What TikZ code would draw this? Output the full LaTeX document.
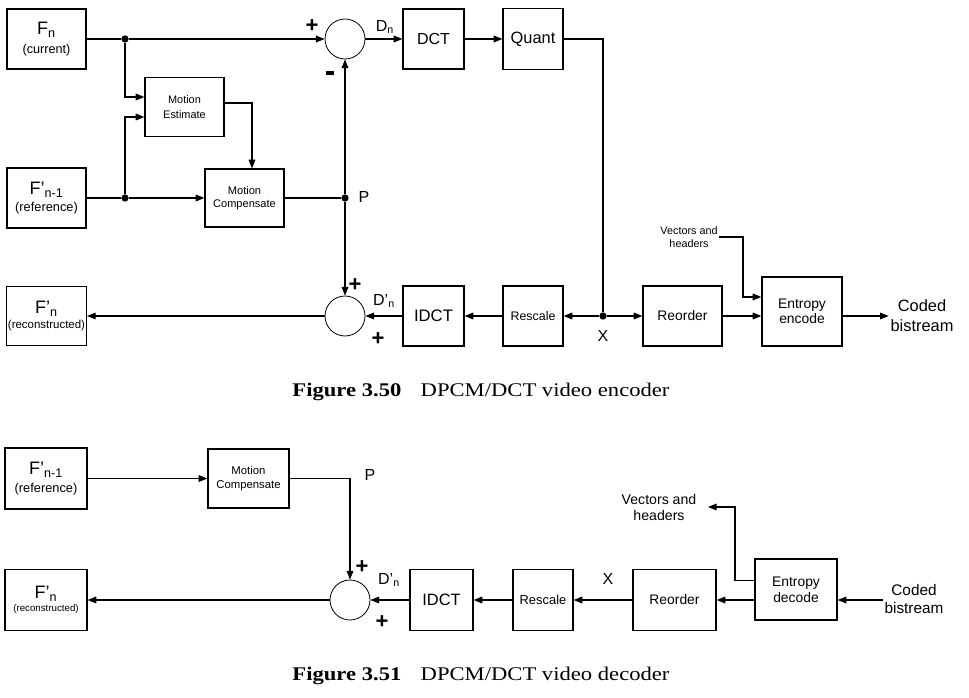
\documentclass[tikz,border=0pt]{standalone}
\usepackage{fontspec}
\setmainfont{Liberation Sans}
\newfontfamily\captionfont[FakeStretch=1.17]{Liberation Serif}
\usetikzlibrary{arrows.meta}

\newcommand\fsz[2]{\fontsize{#1}{#2}\selectfont}

\tikzset{
  block/.style={draw, line width=0.9pt, align=center, inner sep=1pt},
  boxsize/.style 2 args={minimum width=#1*0.75pt, minimum height=#2*0.75pt},
  adder/.style={draw, circle, line width=0.6pt, minimum size=30pt, inner sep=0pt},
  junction/.style={circle, fill, inner sep=0pt, minimum size=5.5pt},
  arr/.style={-{Triangle[length=6.5pt,width=5pt]}},
  sign/.style={font=\fsz{16.5}{16}\bfseries, inner sep=0pt},
  lbl/.style={font=\fsz{12}{13}, inner sep=0pt},
}

\begin{document}
\begin{tikzpicture}[x=0.75pt, y=-0.75pt, line width=0.8pt]
  \useasboundingbox (0,0) rectangle (969,698);

  % encoder
  \node[block, boxsize={79}{60}, font=\fsz{13.5}{14.5}] (fn) at (46.5,39)
    {F\textsubscript{n}\\{\fsz{9.5}{11}(current)}};
  \node[block, boxsize={79}{60}, font=\fsz{13.5}{13}] (fref) at (46.5,198)
    {F’\textsubscript{n-1}\\{\fsz{9.6}{11}(reference)}};
  \node[block, boxsize={79}{59}, font=\fsz{13.5}{11}] (frec) at (46.5,316)
    {F’\textsubscript{n}\\{\fsz{8.6}{9}(reconstructed)}};
  \node[block, boxsize={79}{59}, font=\fsz{8.2}{11}] (me) at (184.5,107) {Motion\\Estimate};
  \node[block, boxsize={79}{58}, font=\fsz{8.3}{9.5}] (mc) at (244.5,198) {Motion\\Compensate};
  \node[adder] (sum1) at (345,39) {};
  \node[block, boxsize={61}{60}, font=\fsz{12}{13}] (dct) at (433.5,39) {DCT};
  \node[block, boxsize={60}{61}, font=\fsz{12.3}{13}] (quant) at (533,39) {Quant};
  \node[adder] (sum2) at (345,316) {};
  \node[block, boxsize={61}{60}, font=\fsz{12.5}{13}] (idct) at (433.5,316) {IDCT};
  \node[block, boxsize={60}{60}, font=\fsz{9.3}{11}] (rescale) at (533,316) {Rescale};
  \node[block, boxsize={79}{60}, font=\fsz{10.4}{11}] (reorder) at (682.5,316) {Reorder};
  \node[block, boxsize={80}{69}, font=\fsz{10.4}{11.2}] (entenc) at (802,311.5) {Entropy\\encode};
  \node[align=center, inner sep=1pt, font=\fsz{8.1}{10}] (vec) at (689,237) {Vectors and\\headers};
  \node[align=center, inner sep=1pt, font=\fsz{12.3}{15}] (coded) at (922,316) {Coded\\bistream};

  \node[junction] (j1) at (125,39) {};
  \node[junction] (j2) at (125,198) {};
  \node[junction] (pj) at (345,198) {};
  \node[junction] (xj) at (603,316) {};
  \coordinate (vturn) at (743,297);

  \draw (fn) -- (j1);
  \draw[arr] (j1) -- (sum1);
  \draw[arr] (sum1) -- (dct);
  \draw[arr] (dct) -- (quant);
  \draw (quant.east) -| (xj);
  \draw[arr] (j1) |- ([yshift=7.5pt]me.west);
  \draw[arr] (j2) |- ([yshift=-7.5pt]me.west);
  \draw[arr] ([yshift=3pt]me.east) -| ([xshift=5.6pt]mc.north);
  \draw (fref) -- (j2);
  \draw[arr] (j2) -- (mc);
  \draw (mc) -- (pj);
  \draw[arr] (pj) -- (sum1);
  \draw[arr] (pj) -- (sum2);
  \draw[arr] (xj) -- (rescale);
  \draw[arr] (xj) -- (reorder);
  \draw[arr] (rescale) -- (idct);
  \draw[arr] (idct) -- (sum2);
  \draw[arr] (sum2) -- (frec);
  \draw[arr] (reorder.east) -- (reorder.east -| entenc.west);
  \draw[arr] (vec.east) -| (vturn) -- (vturn -| entenc.west);
  \draw[arr] (entenc.east |- coded.west) -- (coded.west);

  \node[sign] (plus1) at (312,26) {+};
  \node[inner sep=0pt] (minus1) at (330,73) {\rule{6.5pt}{2.6pt}};
  \node[lbl] (dn) at (385,27) {D\textsubscript{n}};
  \node[lbl] (plab) at (364,197) {P};
  \node[sign] (plus2) at (355,285) {+};
  \node[sign] (plus3) at (378,339) {+};
  \node[lbl] (dn2) at (384,301) {D’\textsubscript{n}};
  \node[lbl] (xlab) at (603,336) {X};

  \node[font=\captionfont\fsz{14.5}{16}] (cap1) at (481,392)
    {\textbf{Figure 3.50}\quad DPCM/DCT video encoder};

  % decoder
  \node[block, boxsize={82}{61}, font=\fsz{13.5}{13}] (fref2) at (46,478.5)
    {F’\textsubscript{n-1}\\{\fsz{9.6}{11}(reference)}};
  \node[block, boxsize={81}{59}, font=\fsz{8.5}{10}] (mc2) at (248.5,478.5) {Motion\\Compensate};
  \node[block, boxsize={82}{61}, font=\fsz{13.5}{10}] (frec2) at (46,600)
    {F’\textsubscript{n}\\{\fsz{7.3}{8}(reconstructed)}};
  \node[adder] (sum3) at (350,600) {};
  \node[block, boxsize={63}{61}, font=\fsz{12.3}{13}] (idct2) at (441.5,600) {IDCT};
  \node[block, boxsize={60}{61}, font=\fsz{9.7}{11}] (rescale2) at (543,600) {Rescale};
  \node[block, boxsize={83}{61}, font=\fsz{10.4}{11}] (reorder2) at (674.5,600) {Reorder};
  \node[block, boxsize={82}{61}, font=\fsz{10.4}{12}] (entdec) at (796,589.5) {Entropy\\decode};
  \node[align=center, inner sep=1pt, font=\fsz{10.6}{12.5}] (vec2) at (659,507.5) {Vectors and\\headers};
  \node[align=center, inner sep=1pt, font=\fsz{11.5}{13}] (coded2) at (914,599) {Coded\\bistream};
  \coordinate (vturn2) at (735,507);
  \coordinate (vend) at (708,507);

  \draw[arr] (fref2) -- (mc2);
  \draw[arr] (mc2.east) -| (sum3);
  \draw[arr] (idct2) -- (sum3);
  \draw[arr] (sum3) -- (frec2);
  \draw[arr] (rescale2) -- (idct2);
  \draw[arr] (reorder2) -- (rescale2);
  \draw[arr] (entdec.west |- reorder2) -- (reorder2);
  \draw[arr] (coded2.west |- sum3) -- (entdec.east |- sum3);
  \draw[arr] ([yshift=7pt]entdec.west) -| (vturn2) -- (vend);

  \node[lbl] (plab2) at (370,475) {P};
  \node[sign] (plus4) at (362,567) {+};
  \node[sign] (plus5) at (382,622) {+};
  \node[lbl] (dn3) at (389,580) {D’\textsubscript{n}};
  \node[lbl] (xlab2) at (608,579) {X};

  \node[font=\captionfont\fsz{14.5}{16}] (cap2) at (481,676)
    {\textbf{Figure 3.51}\quad DPCM/DCT video decoder};
\end{tikzpicture}
\end{document}
